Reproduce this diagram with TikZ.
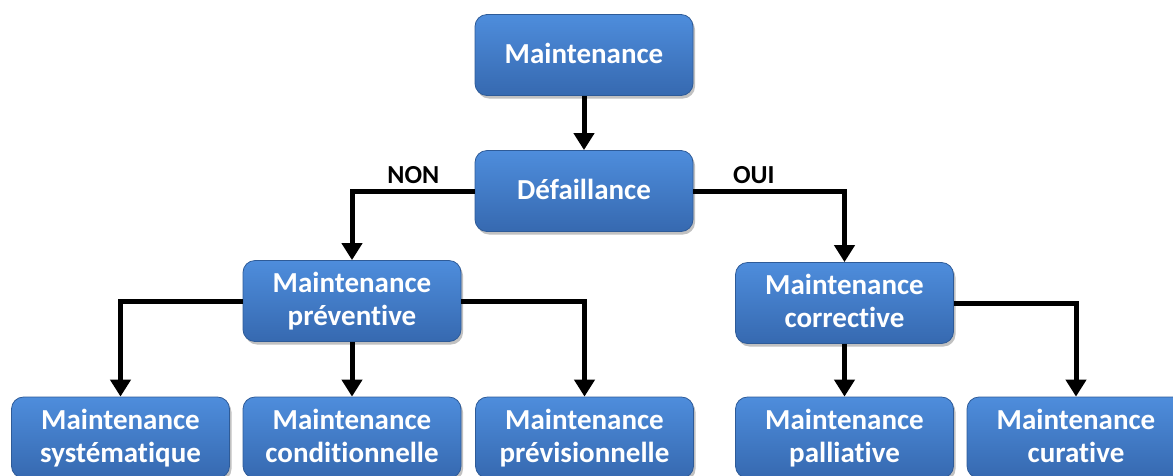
\documentclass[tikz,border=0pt]{standalone}
\usepackage{fontspec}
\setmainfont{Carlito}[Ligatures={NoCommon}]
\usetikzlibrary{arrows.meta,shadows}
\definecolor{boxtop}{HTML}{4E8DDC}
\definecolor{boxbot}{HTML}{3669B0}
\definecolor{boxedge}{HTML}{2E5B98}
\newcommand\bxs{\rule[-8pt]{0pt}{32pt}}
\tikzset{
  box/.style={rectangle, rounded corners=12pt, minimum width=218pt, minimum height=81pt,
    top color=boxtop, bottom color=boxbot, draw=boxedge, line width=0.8pt,
    text=white, align=center, inner sep=0pt,
    font=\bfseries\fontsize{29}{33}\selectfont,
    drop shadow={shadow xshift=2pt, shadow yshift=-3pt, opacity=0.35, fill=black!70}},
  conn/.style={line width=5pt, -{Triangle[width=20pt,length=17pt]}},
  lbl/.style={font=\bfseries\fontsize{26}{28}\selectfont, text=black, inner sep=0pt}
}
\begin{document}
\begin{tikzpicture}[x=1pt,y=-1pt]
\useasboundingbox (0,0) rectangle (1173,475);
\node[box] (m) at (584,55) {\bxs Maintenance};
\node[box] (d) at (584,191) {\bxs Défaillance};
\node[box] (p) at (352,301) {\bxs Maintenance\\\bxs préventive};
\node[box] (c) at (844.5,303) {\bxs Maintenance\\\bxs corrective};
\node[box] (s1) at (120.5,437.5) {\bxs Maintenance\\\bxs systématique};
\node[box] (s2) at (352,437.5) {\bxs Maintenance\\\bxs conditionnelle};
\node[box] (s3) at (584.5,437.5) {\bxs Maintenance\\\bxs prévisionnelle};
\node[box] (s4) at (844.5,437.5) {\bxs Maintenance\\\bxs palliative};
\node[box] (s5) at (1076,437.5) {\bxs Maintenance\\\bxs curative};
\draw[conn] (m.south) -- (d.north);
\draw[conn] (d.west) -| node[lbl, pos=0.25, above, yshift=5pt] (non) {NON} (p.north);
\draw[conn] (d.east) -| node[lbl, pos=0.2, above, yshift=5pt] (oui) {OUI} (c.north);
\draw[conn] (p.west) -| (s1.north);
\draw[conn] (p.south) -- (s2.north);
\draw[conn] (p.east) -| (s3.north);
\draw[conn] (c.south) -- (s4.north);
\draw[conn] (c.east) -| (s5.north);
\end{tikzpicture}
\end{document}
